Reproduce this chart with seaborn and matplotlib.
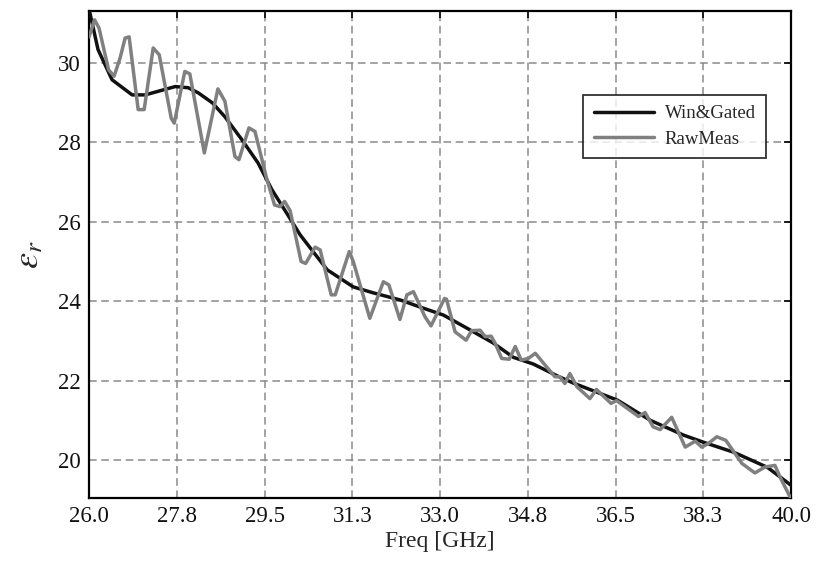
import numpy as np
import pandas as pd
import matplotlib
matplotlib.use("Agg")
import matplotlib.pyplot as plt
import seaborn as sns

# ---- data ----
gated_freq = [26.0, 26.18, 26.46, 26.86, 27.12, 27.72, 27.98, 28.18, 28.46, 28.71,
              29.05, 29.37, 29.65, 29.95, 30.21, 30.75, 31.27, 31.67, 32.21, 32.61,
              33.07, 33.54, 34.06, 34.46, 34.86, 35.34, 35.66, 36.54, 37.2, 37.86,
              38.26, 38.86, 39.53, 40.0]
gated_eps = [31.35, 30.33, 29.57, 29.19, 29.19, 29.4, 29.37, 29.24, 28.99, 28.64,
             28.06, 27.48, 26.8, 26.2, 25.67, 24.79, 24.36, 24.21, 24.03, 23.85,
             23.65, 23.32, 22.95, 22.59, 22.42, 22.12, 21.94, 21.51, 21.0, 20.63,
             20.45, 20.2, 19.82, 19.37]

raw_freq = [26.0, 26.11, 26.2, 26.39, 26.5, 26.62, 26.72, 26.8, 26.98, 27.1,
            27.28, 27.4, 27.64, 27.7, 27.91, 28.01, 28.3, 28.57, 28.71, 28.91,
            28.99, 29.19, 29.31, 29.54, 29.7, 29.81, 29.9, 30.01, 30.23, 30.32,
            30.51, 30.61, 30.83, 30.91, 31.19, 31.27, 31.6, 31.87, 31.98, 32.2,
            32.34, 32.47, 32.7, 32.82, 33.09, 33.13, 33.3, 33.52, 33.63, 33.8,
            33.9, 34.02, 34.1, 34.23, 34.38, 34.5, 34.62, 34.76, 34.9, 35.29,
            35.39, 35.49, 35.59, 35.73, 35.99, 36.12, 36.41, 36.52, 36.96, 37.09,
            37.25, 37.39, 37.62, 37.89, 38.09, 38.22, 38.35, 38.52, 38.7, 39.02,
            39.28, 39.48, 39.68, 39.78, 40.0]
raw_eps = [30.65, 31.08, 30.87, 29.82, 29.66, 30.12, 30.62, 30.65, 28.82, 28.82,
           30.37, 30.2, 28.6, 28.48, 29.78, 29.72, 27.73, 29.34, 29.03, 27.64,
           27.56, 28.36, 28.27, 27.1, 26.42, 26.38, 26.51, 26.28, 25.0, 24.95,
           25.36, 25.29, 24.16, 24.16, 25.25, 25.0, 23.57, 24.49, 24.41, 23.54,
           24.16, 24.24, 23.61, 23.38, 24.07, 24.05, 23.23, 23.02, 23.26, 23.27,
           23.11, 23.12, 22.94, 22.56, 22.54, 22.86, 22.52, 22.56, 22.69, 22.1,
           22.1, 21.93, 22.18, 21.85, 21.55, 21.78, 21.43, 21.5, 21.1, 21.2,
           20.84, 20.77, 21.08, 20.33, 20.48, 20.33, 20.42, 20.59, 20.5, 19.92,
           19.68, 19.83, 19.87, 19.58, 19.03]

x_ticks = [26.0, 27.75, 29.5, 31.25, 33.0, 34.75, 36.5, 38.25, 40.0]
x_tick_labels = ["26.0", "27.8", "29.5", "31.3", "33.0", "34.8", "36.5", "38.3", "40.0"]
y_ticks = [20, 22, 24, 26, 28, 30]
series_names = ["Win&Gated", "RawMeas"]

# ---- plotting ----
sns.set_style("white")
plt.rcParams["font.family"] = ["Liberation Serif", "DejaVu Serif"]
plt.rcParams["mathtext.fontset"] = "stix"

fig = plt.figure(figsize=(8.25, 5.65), dpi=100)
ax = fig.add_axes([0.1079, 0.1186, 0.8509, 0.8619])

df_g = pd.DataFrame({"freq": gated_freq, "eps": gated_eps, "series": series_names[0]})
df_r = pd.DataFrame({"freq": raw_freq, "eps": raw_eps, "series": series_names[1]})

sns.lineplot(data=df_g, x="freq", y="eps", ax=ax, color="#111111", lw=2.5,
             label=series_names[0], zorder=3, sort=False)
sns.lineplot(data=df_r, x="freq", y="eps", ax=ax, color="#808080", lw=2.5,
             label=series_names[1], zorder=4, sort=False)

ax.set_xlim(26, 40)
ax.set_ylim(19.05, 31.3)
ax.set_xticks(x_ticks)
ax.set_xticklabels(x_tick_labels)
ax.set_yticks(y_ticks)
ax.set_yticklabels([str(v) for v in y_ticks])

ax.grid(True, color="#8a8a8a", linestyle=(0, (5, 3)), linewidth=1.1)
for s in ax.spines.values():
    s.set_color("black")
    s.set_linewidth(1.6)
ax.tick_params(axis="both", direction="in", length=5, width=1.2, labelsize=16.5,
               top=True, right=True, colors="black", pad=6)
for lbl in ax.get_xticklabels() + ax.get_yticklabels():
    lbl.set_color("#111111")

ax.set_xlabel("Freq [GHz]", fontsize=17, labelpad=3)
ax.set_ylabel(r"$\varepsilon_r$", fontsize=26, labelpad=8)

leg = ax.legend(loc="upper left", bbox_to_anchor=(0.704, 0.8275), fontsize=13.5,
                frameon=True, fancybox=False, edgecolor="black", borderpad=0.55,
                handlelength=3.2, labelspacing=0.45, handletextpad=0.6,
                borderaxespad=0)
leg.get_frame().set_linewidth(1.3)
leg.get_frame().set_facecolor("white")
leg.set_zorder(10)

fig.savefig("out.png", dpi=100)
